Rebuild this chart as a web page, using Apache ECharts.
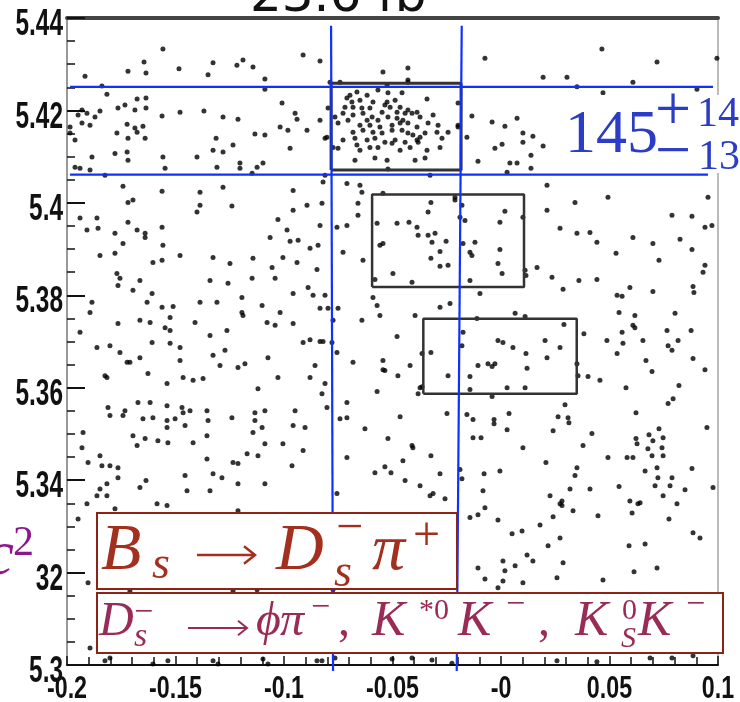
<!DOCTYPE html>
<html>
<head>
<meta charset="utf-8">
<script src="https://cdn.jsdelivr.net/npm/echarts@6/dist/echarts.min.js"></script>
<style>
  html, body { margin: 0; padding: 0; background: #fff; }
  #main { width: 740px; height: 702px; }
</style>
</head>
<body>
<div id="main"></div>
<script>
// tick labels
var xTickLabels = ['-0.2', '-0.15', '-0.1', '-0.05', '-0', '0.05', '0.1'];
var yTickLabels = ['5.3', '5.32', '5.34', '5.36', '5.38', '5.4', '5.42', '5.44'];

// dots, upper band (above 5.40)
var dotsTop = [
  [-0.1917,5.4274],[-0.1839,5.4253],[-0.1816,5.4235],[-0.1558,5.4333],[-0.1645,5.4305],[-0.1719,5.4285],[-0.1636,5.4281],[-0.1484,5.4290],
  [-0.1327,5.4303],[-0.1350,5.4277],[-0.1217,5.4298],[-0.1189,5.4309],[-0.1143,5.4294],[-0.1088,5.4268],[-0.1088,5.4246],[-0.0912,5.4320],
  [-0.0834,5.4307],[-0.0788,5.4261],[-0.0742,5.4261],
  [-0.1931,5.4201],[-0.1949,5.4190],[-0.1908,5.4194],[-0.1871,5.4186],[-0.1931,5.4173],[-0.1894,5.4168],[-0.1986,5.4164],[-0.1986,5.4151],
  [-0.1963,5.4136],[-0.1848,5.4199],[-0.1765,5.4205],[-0.1733,5.4212],[-0.1677,5.4225],[-0.1636,5.4227],[-0.1636,5.4205],[-0.1687,5.4201],
  [-0.1723,5.4170],[-0.1770,5.4151],[-0.1687,5.4162],[-0.1650,5.4166],[-0.1640,5.4140],[-0.1719,5.4140],[-0.1677,5.4153],[-0.1779,5.4107],
  [-0.1723,5.4110],[-0.1719,5.4092],[-0.1562,5.4188],[-0.1479,5.4196],[-0.1369,5.4199],[-0.1281,5.4186],[-0.1212,5.4181],[-0.1313,5.4140],
  [-0.1327,5.4114],[-0.1281,5.4110],[-0.1235,5.4125],[-0.1401,5.4099],[-0.1558,5.4099],[-0.1548,5.4075],[-0.1309,5.4077],[-0.1203,5.4086],
  [-0.1203,5.4075],[-0.1124,5.4077],[-0.1097,5.4086],[-0.1147,5.4064],[-0.1134,5.4149],[-0.1088,5.4147],[-0.1009,5.4216],[-0.1018,5.4164],
  [-0.0982,5.4157],[-0.0949,5.4194],[-0.0940,5.4181],[-0.0894,5.4157],[-0.0834,5.4179],[-0.0972,5.4118],[-0.0802,5.4142],[-0.0774,5.4120],
  [-0.0797,5.4205],[-0.1885,5.4099],[-0.1940,5.4075],[-0.1894,5.4071],[-0.1825,5.4060],[-0.1963,5.4077],
  [-0.1742,5.4036],[-0.1562,5.4025],[-0.1387,5.4023],[-0.1281,5.4034],[-0.0958,5.4027],[-0.0820,5.4045],[-0.0811,5.4060],[-0.0710,5.4042],
  [-0.0650,5.4038],[-0.0641,5.4023],
  [-0.0074,5.4313],[0.0465,5.4333],[0.0719,5.4305],[0.0995,5.4313],[0.0194,5.4272],[0.0304,5.4272],[0.0608,5.4261],[0.0350,5.4251],
  [0.0470,5.4238],[0.0903,5.4246],[-0.0544,5.4283],[-0.0429,5.4292],[-0.0429,5.4266],
  [-0.0134,5.4188],[-0.0041,5.4175],[0.0018,5.4166],[0.0074,5.4183],[-0.0157,5.4142],[-0.0028,5.4118],[0.0005,5.4127],[0.0101,5.4151],
  [0.0147,5.4144],[0.0101,5.4131],[0.0194,5.4123],[-0.0106,5.4090],[0.0041,5.4086],[0.0074,5.4086],[0.0138,5.4103],[0.0138,5.4075],
  [-0.0198,5.4164],[-0.0198,5.4216],
  [0.0212,5.4038],[0.0028,5.4066],[-0.0544,5.4021],[-0.0212,5.4012],[0.0493,5.4012],[0.0954,5.4012]
];

// dense cluster inside the first box
var dotsBox1 = [
  [-0.0525,5.4255],[-0.0429,5.4261],[-0.0664,5.4240],[-0.0617,5.4233],[-0.0567,5.4244],[-0.0521,5.4238],[-0.0456,5.4238],[-0.0710,5.4227],
  [-0.0687,5.4218],[-0.0650,5.4222],[-0.0590,5.4218],[-0.0525,5.4218],[-0.0488,5.4222],[-0.0341,5.4225],[-0.0719,5.4207],[-0.0682,5.4207],
  [-0.0641,5.4205],[-0.0604,5.4205],[-0.0535,5.4212],[-0.0511,5.4207],[-0.0465,5.4207],[-0.0429,5.4201],[-0.0387,5.4196],
  [-0.0765,5.4186],[-0.0728,5.4194],[-0.0682,5.4190],[-0.0636,5.4194],[-0.0594,5.4186],[-0.0548,5.4196],[-0.0521,5.4186],[-0.0479,5.4183],
  [-0.0442,5.4194],[-0.0410,5.4194],[-0.0373,5.4186],[-0.0313,5.4190],
  [-0.0751,5.4173],[-0.0705,5.4179],[-0.0650,5.4168],[-0.0604,5.4168],[-0.0567,5.4179],[-0.0502,5.4168],[-0.0465,5.4173],[-0.0429,5.4173],
  [-0.0387,5.4164],[-0.0336,5.4173],[-0.0290,5.4168],[-0.0198,5.4168],
  [-0.0682,5.4153],[-0.0636,5.4157],[-0.0590,5.4153],[-0.0548,5.4151],[-0.0502,5.4157],[-0.0456,5.4157],[-0.0429,5.4151],[-0.0406,5.4147],
  [-0.0350,5.4151],[-0.0295,5.4153],[-0.0244,5.4153],
  [-0.0811,5.4140],[-0.0728,5.4136],[-0.0673,5.4140],[-0.0617,5.4136],[-0.0581,5.4140],[-0.0535,5.4131],[-0.0488,5.4136],[-0.0442,5.4131],
  [-0.0387,5.4136],[-0.0272,5.4140],
  [-0.0751,5.4118],[-0.0664,5.4125],[-0.0604,5.4120],[-0.0567,5.4120],[-0.0502,5.4129],[-0.0419,5.4120],[-0.0382,5.4131],[-0.0341,5.4114],
  [-0.0281,5.4120],
  [-0.0673,5.4092],[-0.0581,5.4097],[-0.0525,5.4092],[-0.0396,5.4092],[-0.0350,5.4097],[-0.0521,5.4073],[-0.0327,5.4060],
  [-0.0696,5.4233],[-0.0479,5.4196],[-0.0617,5.4179],[-0.0452,5.4179],[-0.0558,5.4164],[-0.0373,5.4142],[-0.0650,5.4114],[-0.0465,5.4114]
];

// left half, 5.33 - 5.40
var dotsLeft = [
  [-0.1719,5.4001],[-0.1696,5.4006],[-0.1940,5.3967],[-0.1862,5.3967],[-0.1857,5.3945],[-0.1908,5.3941],[-0.1719,5.3958],[-0.1677,5.3941],
  [-0.1640,5.3934],[-0.1640,5.3925],[-0.1779,5.3934],[-0.1562,5.3947],[-0.1387,5.3995],[-0.1401,5.3980],[-0.1240,5.3993],[-0.0958,5.3984],
  [-0.0894,5.3995],[-0.0825,5.3999],[-0.1028,5.3964],[-0.0986,5.3941],[-0.0935,5.3919],[-0.0972,5.3917],[-0.0834,5.3951],[-0.0756,5.3947],
  [-0.0710,5.3951],[-0.0659,5.3973],[-0.0659,5.3999],[-0.0843,5.3908],[-0.0880,5.3902],[-0.1064,5.3925],[-0.1742,5.3912],[-0.1779,5.3891],
  [-0.1848,5.3886],[-0.1558,5.3908],[-0.1479,5.3886],[-0.1604,5.3871],[-0.1562,5.3876],[-0.1327,5.3882],[-0.1249,5.3869],[-0.1143,5.3880],
  [-0.1055,5.3860],[-0.1005,5.3882],[-0.0940,5.3871],[-0.0728,5.3893],[-0.0636,5.3876],[-0.0848,5.3856],
  [-0.1770,5.3847],[-0.1756,5.3837],[-0.1765,5.3821],[-0.1664,5.3832],[-0.1696,5.3811],[-0.1608,5.3804],[-0.1631,5.3785],[-0.1562,5.3774],
  [-0.1511,5.3776],[-0.1885,5.3785],[-0.1894,5.3763],[-0.1341,5.3832],[-0.1258,5.3826],[-0.1387,5.3785],[-0.1309,5.3785],[-0.1147,5.3837],
  [-0.1041,5.3837],[-0.1194,5.3795],[-0.1101,5.3778],[-0.1194,5.3763],[-0.1189,5.3756],[-0.1018,5.3763],[-0.0958,5.3804],[-0.0889,5.3817],
  [-0.0866,5.3800],[-0.0811,5.3800],[-0.0834,5.3772],[-0.0797,5.3772],[-0.0751,5.3772],
  [-0.1765,5.3739],[-0.1664,5.3746],[-0.1617,5.3741],[-0.1525,5.3752],[-0.1548,5.3730],[-0.1525,5.3724],[-0.1410,5.3741],[-0.1341,5.3713],
  [-0.1263,5.3724],[-0.1078,5.3741],[-0.1041,5.3735],[-0.0958,5.3739],[-0.0774,5.3746],[-0.0641,5.3746],[-0.1940,5.3720],
  [-0.1862,5.3687],[-0.1802,5.3691],[-0.1756,5.3676],[-0.1723,5.3655],[-0.1710,5.3655],[-0.1664,5.3665],[-0.1608,5.3698],[-0.1525,5.3696],
  [-0.1479,5.3687],[-0.1479,5.3659],[-0.1327,5.3670],[-0.1272,5.3681],[-0.1295,5.3648],[-0.1212,5.3644],[-0.1180,5.3652],[-0.1074,5.3665],
  [-0.0912,5.3698],[-0.0880,5.3704],[-0.0834,5.3700],[-0.0820,5.3700],[-0.0779,5.3698],[-0.0756,5.3676],[-0.0857,5.3648],[-0.0880,5.3622],
  [-0.1028,5.3622],[-0.0682,5.3655],[-0.1825,5.3626],[-0.1816,5.3622],[-0.1627,5.3631],[-0.1539,5.3609],[-0.1465,5.3622],[-0.1419,5.3616],
  [-0.1373,5.3620],[-0.1120,5.3598],[-0.0811,5.3609],[-0.0825,5.3587],
  [-0.0802,5.3557],[-0.0710,5.3568],[-0.1811,5.3557],[-0.1802,5.3540],[-0.1733,5.3550],[-0.1742,5.3540],[-0.1673,5.3568],[-0.1617,5.3568],
  [-0.1539,5.3561],[-0.1470,5.3557],[-0.1465,5.3546],[-0.1433,5.3550],[-0.1355,5.3550],[-0.1350,5.3529],[-0.1240,5.3535],[-0.1134,5.3546],
  [-0.1134,5.3529],[-0.1088,5.3550],[-0.1101,5.3514],[-0.1143,5.3503],[-0.0949,5.3550],[-0.0958,5.3518],[-0.0903,5.3514],[-0.0742,5.3533],
  [-0.0710,5.3535],[-0.0627,5.3511],[-0.1926,5.3503],[-0.1931,5.3470],[-0.1848,5.3453],[-0.1839,5.3431],[-0.1802,5.3431],[-0.1765,5.3427],
  [-0.1765,5.3405],[-0.1903,5.3438],[-0.1650,5.3533],[-0.1604,5.3535],[-0.1539,5.3529],[-0.1502,5.3533],[-0.1456,5.3518],[-0.1539,5.3514],
  [-0.1696,5.3496],[-0.1677,5.3475],[-0.1640,5.3490],[-0.1581,5.3485],[-0.1535,5.3481],[-0.1419,5.3481],[-0.1355,5.3496],[-0.1355,5.3446],
  [-0.1235,5.3438],[-0.1212,5.3436],[-0.1170,5.3457],[-0.1120,5.3453],[-0.1088,5.3479],[-0.1005,5.3479],[-0.0912,5.3464],[-0.0963,5.3431],
  [-0.0710,5.3449],[-0.1456,5.3410],[-0.1327,5.3414],[-0.1286,5.3405],[-0.1816,5.3392],[-0.1848,5.3381],[-0.1862,5.3366],[-0.1816,5.3366],
  [-0.1636,5.3399],[-0.1664,5.3384],[-0.1447,5.3377],[-0.1341,5.3377],[-0.1212,5.3392],[-0.1088,5.3392],[-0.0756,5.3371],
  [-0.1908,5.3349],[-0.1585,5.3349],[-0.1539,5.3345],[-0.1779,5.3338]
];

// right half, 5.33 - 5.40 (boxes 2 and 3 and the cluster near 0.07)
var dotsRight = [
  [0.0341,5.4001],[0.0212,5.3984],[0.0788,5.3973],[0.0880,5.3971],[0.0940,5.3947],[0.0972,5.3951],[0.0272,5.3945],[0.0350,5.3934],
  [0.0410,5.3936],[0.0442,5.3915],[0.0608,5.3925],[0.0700,5.3912],[0.0825,5.3921],[0.0880,5.3899],[0.0530,5.3891],[0.0728,5.3876],
  [0.0940,5.3865],[0.0931,5.3850],[0.0166,5.3860],[0.0235,5.3839],[0.0359,5.3832],[0.0442,5.3834],[0.0286,5.3813],[0.0594,5.3817],
  [0.0700,5.3808],[0.0885,5.3819],[0.0889,5.3806],[0.0535,5.3800],[0.0558,5.3798],
  [-0.0323,5.4001],[-0.0212,5.4006],[-0.0180,5.3995],[-0.0189,5.3969],[-0.0166,5.3962],[-0.0336,5.3980],[0.0018,5.3982],[0.0101,5.3969],
  [-0.0571,5.3956],[-0.0479,5.3956],[-0.0424,5.3958],[-0.0387,5.3947],[-0.0005,5.3958],[-0.0544,5.3912],[-0.0558,5.3908],[-0.0382,5.3930],
  [-0.0336,5.3930],[-0.0318,5.3915],[-0.0304,5.3934],[-0.0253,5.3917],[-0.0281,5.3895],[-0.0323,5.3880],[-0.0281,5.3863],[-0.0244,5.3865],
  [-0.0175,5.3912],[-0.0143,5.3893],[-0.0134,5.3886],[-0.0120,5.3915],[-0.0005,5.3899],[-0.0014,5.3869],[0.0005,5.3847],[-0.0498,5.3847],
  [-0.0581,5.3834],[-0.0410,5.3828],[-0.0143,5.3832],[0.0111,5.3854],[0.0115,5.3843],
  [-0.0097,5.3804],[-0.0590,5.3795],[-0.0571,5.3778],[-0.0558,5.3756],[-0.0281,5.3774],[-0.0235,5.3782],[-0.0396,5.3756],[-0.0479,5.3711],
  [-0.0544,5.3659],[-0.0544,5.3639],[-0.0535,5.3637],[-0.0419,5.3648],[-0.0475,5.3626],[-0.0571,5.3592],[-0.0373,5.3600],[-0.0382,5.3587],
  [0.0065,5.3761],[0.0111,5.3754],[-0.0111,5.3750],[0.0290,5.3737],[-0.0175,5.3720],[-0.0014,5.3702],[0.0009,5.3698],[0.0055,5.3687],
  [0.0203,5.3702],[0.0272,5.3687],[-0.0180,5.3691],[-0.0323,5.3676],[-0.0364,5.3674],[0.0115,5.3674],[0.0212,5.3665],[-0.0106,5.3648],
  [-0.0060,5.3652],[-0.0041,5.3646],[-0.0028,5.3652],[0.0120,5.3642],[-0.0244,5.3626],[-0.0143,5.3624],[-0.0364,5.3602],[-0.0143,5.3596],
  [0.0028,5.3600],[0.0111,5.3600],[-0.0041,5.3581],[0.0355,5.3626],[0.0401,5.3624],[0.0350,5.3652],
  [0.0382,5.3717],[0.0488,5.3702],[0.0544,5.3763],[0.0617,5.3756],[0.0608,5.3735],[0.0617,5.3730],[0.0558,5.3720],[0.0562,5.3696],
  [0.0535,5.3674],[0.0654,5.3702],[0.0668,5.3659],[0.0696,5.3635],[0.0765,5.3724],[0.0770,5.3691],[0.0788,5.3681],[0.0816,5.3702],
  [0.0802,5.3761],[0.0876,5.3724],[0.0885,5.3663],[0.0940,5.3639],[0.0456,5.3616],[0.0576,5.3600],[0.0820,5.3605],[0.0793,5.3576],
  [0.0770,5.3566],[0.0622,5.3546],
  [-0.0465,5.3537],[-0.0521,5.3490],[-0.0410,5.3475],[-0.0406,5.3470],[-0.0323,5.3453],[-0.0452,5.3442],[-0.0581,5.3416],[-0.0535,5.3429],
  [-0.0507,5.3416],[-0.0442,5.3399],[-0.0373,5.3388],[-0.0281,5.3414],[-0.0327,5.3366],[-0.0313,5.3371],[-0.0258,5.3360],[-0.0249,5.3544],
  [-0.0157,5.3542],[-0.0129,5.3531],[-0.0032,5.3531],[-0.0032,5.3522],[0.0037,5.3544],[0.0028,5.3509],[-0.0129,5.3492],[-0.0092,5.3492],
  [-0.0189,5.3423],[-0.0180,5.3403],[-0.0078,5.3414],[-0.0083,5.3377],[-0.0005,5.3420],[0.0101,5.3470],[0.0207,5.3438],[0.0240,5.3507],
  [0.0263,5.3537],[0.0309,5.3535],[0.0313,5.3524],[0.0295,5.3563],[0.0419,5.3501],[0.0378,5.3475],[0.0350,5.3427],[0.0341,5.3410],
  [0.0318,5.3381],[0.0226,5.3366],[0.0281,5.3355],[0.0281,5.3345],[0.0410,5.3381],[0.0493,5.3449],[0.0544,5.3386],[0.0581,5.3449],
  [0.0608,5.3449],[0.0622,5.3490],[0.0627,5.3479],[0.0664,5.3420],[0.0641,5.3351],[0.0594,5.3355],
  [0.0682,5.3498],[0.0700,5.3485],[0.0728,5.3511],[0.0747,5.3492],[0.0677,5.3468],[0.0696,5.3453],[0.0742,5.3470],[0.0747,5.3453],
  [0.0719,5.3427],[0.0723,5.3405],[0.0710,5.3388],[0.0747,5.3366],[0.0788,5.3405],[0.0779,5.3388],[0.0848,5.3379],[0.0811,5.3349],
  [0.0949,5.3514],[0.0977,5.3384],[0.0880,5.3425]
];

// bottom strip, below 5.335
var dotsBottom = [
  [-0.1212,5.3334],[-0.1949,5.3316],[-0.1903,5.3178],[-0.1894,5.3037],[-0.1802,5.3015],[-0.1825,5.3009],[-0.1604,5.3002],[-0.1535,5.3009],
  [-0.1327,5.3009],[-0.1304,5.3002],[-0.1097,5.3013],[-0.1074,5.3002],[-0.0848,5.3009],[-0.0825,5.3009],[-0.0765,5.3015],
  [-0.1710,5.3160],[-0.1235,5.3160],[-0.1124,5.3163],[-0.0774,5.3163],
  [-0.0143,5.3319],[-0.0106,5.3325],[-0.0074,5.3340],[-0.0014,5.3314],[0.0051,5.3284],[0.0097,5.3290],[0.0180,5.3303],[0.0240,5.3321],
  [0.0272,5.3349],[0.0332,5.3334],[0.0447,5.3323],[0.0217,5.3258],[0.0272,5.3275],[0.0120,5.3238],[0.0147,5.3225],[0.0286,5.3221],
  [-0.0106,5.3210],[-0.0074,5.3186],[0.0009,5.3225],[0.0018,5.3204],[0.0009,5.3182],[0.0065,5.3215],[-0.0014,5.3167],[0.0101,5.3178],
  [0.0258,5.3189],[0.0470,5.3184],[0.0604,5.3329],[0.0631,5.3349],[0.0590,5.3258],[0.0664,5.3262],[0.0613,5.3202],[0.0719,5.3210],
  [0.0774,5.3316],[0.0885,5.3286],[0.0917,5.3275],
  [-0.0502,5.3013],[-0.0410,5.3015],[-0.0226,5.3004],[-0.0318,5.3011],[0.0258,5.3009],[0.0442,5.3007],[0.0687,5.3015],[0.0788,5.3015],
  [0.0885,5.3020]
];

// annotation geometry (data units)
var box1 = [[-0.0783, 5.4071], [-0.0184, 5.4259]];
var box2 = [[-0.0594, 5.3818], [0.0106, 5.4018]];
var box3 = [[-0.0358, 5.3587], [0.0349, 5.3749]];
var blueV1 = [[-0.0783, 5.4383], [-0.0774, 5.2987]];
var blueV2 = [[-0.0181, 5.4383], [-0.0204, 5.2987]];
var blueH1 = [[-0.1986, 5.4251], [0.0977, 5.4251]];
var blueH2 = [[-0.1986, 5.4061], [0.0954, 5.4061]];

var allDots = dotsTop.concat(dotsBox1, dotsLeft, dotsRight, dotsBottom);

function rectPath(b) {
  return [[b[0][0], b[0][1]], [b[1][0], b[0][1]], [b[1][0], b[1][1]], [b[0][0], b[1][1]], [b[0][0], b[0][1]]];
}
function lineSeries(data, color, width) {
  return {
    type: 'line', data: data, showSymbol: false, symbol: 'none', clip: false, silent: true,
    lineStyle: { color: color, width: width }, z: 4
  };
}

var serif = '"Liberation Serif", "DejaVu Serif", serif';
var sans = '"Liberation Sans", Arial, sans-serif';

// text piece with its baseline at y
function tx(x, base, s, size, color, italic, extra) {
  var el = {
    type: 'text', x: x, y: base - 0.305 * size, z: 120,
    style: {
      text: s, fill: color, align: 'left', verticalAlign: 'middle',
      font: (italic ? 'italic ' : '') + size + 'px ' + serif
    }
  };
  if (extra) { for (var k in extra) el.style[k] = extra[k]; }
  return el;
}
function arrow(x1, x2, y, head, color, w) {
  return [
    { type: 'line', z: 120, shape: { x1: x1, y1: y, x2: x2, y2: y }, style: { stroke: color, lineWidth: w } },
    { type: 'polyline', z: 120, shape: { points: [[x2 - head, y - head * 0.8], [x2, y], [x2 - head, y + head * 0.8]] },
      style: { stroke: color, lineWidth: w, fill: null } }
  ];
}

var red = '#a3301f';
var mag = '#9a2b56';
var blue = '#2b3cc6';
var purple = '#8c168c';
var frame = '#8b2416';
var lineBlue = '#0f30ff';

var graphics = [
  // title cut at the top
  { type: 'text', x: 250, y: 13 - 0.297 * 50, z: 120,
    style: { text: '23.6 fb', fill: '#111', font: '50px "DejaVu Sans", sans-serif', align: 'left', verticalAlign: 'middle' } },
  // yield label
  { type: 'rect', shape: { x: 565, y: 95, width: 180, height: 78 }, style: { fill: '#fff' }, z: 110 },
  tx(565, 155, '145', 62, blue, false),
  tx(655, 133, '+', 64, blue, false),
  tx(697, 128, '14', 42, blue, false),
  tx(655, 174, '\u2212', 64, blue, false),
  tx(698, 171, '13', 42, blue, false),
  // decay boxes
  { type: 'rect', shape: { x: 97, y: 513, width: 360, height: 76 }, style: { fill: '#fff', stroke: frame, lineWidth: 2 }, z: 110 },
  { type: 'rect', shape: { x: 97, y: 593, width: 626, height: 60 }, style: { fill: '#fff', stroke: frame, lineWidth: 2 }, z: 110 },
  tx(101, 572, 'B', 66, red, true),
  tx(152, 580, 's', 46, red, true),
  tx(276, 572, 'D', 66, red, true),
  tx(336, 544, '\u2212', 48, red, false),
  tx(334, 588, 's', 46, red, true),
  tx(372, 572, '\u03c0', 66, red, true),
  tx(413, 552, '+', 48, red, false),
  tx(99, 637, 'D', 48, mag, true),
  tx(134, 623, '\u2212', 34, mag, false),
  tx(134, 647, 's', 34, mag, true),
  tx(256, 637, '\u03d5', 48, mag, true),
  tx(280, 637, '\u03c0', 48, mag, true),
  tx(311, 618, '\u2212', 34, mag, false),
  tx(338, 637, ',', 48, mag, false),
  tx(372, 637, 'K', 50, mag, true),
  tx(419, 620, '*0', 30, mag, false),
  tx(458, 637, 'K', 50, mag, true),
  tx(506, 615, '\u2212', 34, mag, false),
  tx(538, 637, ',', 48, mag, false),
  tx(575, 637, 'K', 50, mag, true),
  tx(622, 620, '0', 30, mag, false),
  tx(621, 648, 'S', 30, mag, true),
  tx(638, 637, 'K', 50, mag, true),
  tx(686, 615, '\u2212', 34, mag, false)
].concat(arrow(197, 255, 555, 11, red, 2.5), arrow(188, 247, 628, 9, mag, 2));

var myChart = echarts.init(document.getElementById('main'), null, { renderer: 'canvas' });
var option = {
  animation: false,
  backgroundColor: '#fff',
  grid: { left: 67, right: 22, top: 18, bottom: 37, outerBoundsMode: 'none', containLabel: false },
  xAxis: [{
    type: 'value', min: -0.2, max: 0.1, interval: 0.05, position: 'bottom',
    axisLine: { onZero: false, lineStyle: { color: '#111', width: 2 } },
    axisTick: { inside: true, length: 9, lineStyle: { color: '#111', width: 1.5 } },
    minorTick: { show: true, splitNumber: 5, length: 8, lineStyle: { color: '#111', width: 1.5 } },
    splitLine: { show: false },
    axisLabel: { show: false }
  }, {
    type: 'value', min: -0.2, max: 0.1, position: 'top',
    axisLine: { onZero: false, lineStyle: { color: '#444', width: 4 } },
    axisTick: { show: false }, axisLabel: { show: false }, splitLine: { show: false }
  }],
  yAxis: [{
    type: 'value', min: 5.3, max: 5.44, interval: 0.02, position: 'left',
    axisLine: { onZero: false, lineStyle: { color: '#999', width: 2 } },
    axisTick: { inside: true, length: 18, lineStyle: { color: '#111', width: 2 } },
    minorTick: { show: true, splitNumber: 4, length: 8, lineStyle: { color: '#111', width: 1.5 } },
    splitLine: { show: false },
    axisLabel: { show: false }
  }, {
    type: 'value', min: 5.3, max: 5.44, position: 'right',
    axisLine: { show: true, onZero: false, lineStyle: { color: '#bbb', width: 2 } },
    axisTick: { show: false }, axisLabel: { show: false }, splitLine: { show: false }
  }],
  series: [
    {
      type: 'scatter', data: allDots, symbol: 'circle', symbolSize: 5, silent: true,
      itemStyle: { color: '#000' }, z: 2
    },
    lineSeries(rectPath(box1), '#333', 3),
    lineSeries(rectPath(box2), '#333', 2.5),
    lineSeries(rectPath(box3), '#333', 2.5),
    lineSeries(blueV1, lineBlue, 2.2),
    lineSeries(blueV2, lineBlue, 2.2),
    lineSeries(blueH1, lineBlue, 2.2),
    lineSeries(blueH2, lineBlue, 2.2)
  ]
};
myChart.setOption(option);

// narrow tick labels, placed through the axis scales
var labelEls = [];
yTickLabels.forEach(function (s, i) {
  var py = myChart.convertToPixel({ yAxisIndex: 0 }, 5.3 + i * 0.02);
  labelEls.push({
    type: 'text', x: 63, y: py + 7, scaleX: 0.66, z: 100,
    style: { text: s, x: 0, y: 0, fill: '#111', font: 'bold 37px ' + sans, align: 'right', verticalAlign: 'middle' }
  });
});
xTickLabels.forEach(function (s, i) {
  var px = myChart.convertToPixel({ xAxisIndex: 0 }, -0.2 + i * 0.05);
  labelEls.push({
    type: 'text', x: px, y: 689, scaleX: 0.75, z: 100,
    style: { text: s, x: 0, y: 0, fill: '#111', font: 'bold 31px ' + sans, align: 'center', verticalAlign: 'middle' }
  });
});
// cut y-axis unit drawn over the labels
var unitEls = [
  { type: 'rect', shape: { x: 0, y: 520, width: 35, height: 78 }, style: { fill: '#fff' }, z: 110 },
  tx(14, 577, 'c', 64, purple, true, { align: 'right' }),
  tx(13, 557, '2', 42, purple, false)
];
myChart.setOption({ graphic: labelEls.concat(graphics, unitEls) });
</script>
</body>
</html>
